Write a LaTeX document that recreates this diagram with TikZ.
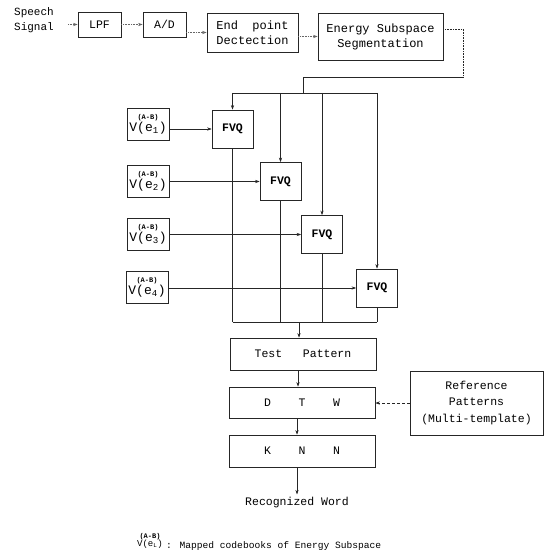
\documentclass[tikz,border=0pt]{standalone}
\usepackage{fontspec}
\setmainfont{Liberation Mono}
\usetikzlibrary{arrows.meta}

% codebook label: small (A-B) superscript over V(e_i)
\newcommand\cbook[1]{{\fontsize{7}{7}\selectfont\bfseries (A-B)}\\[-2pt]V(e\textsubscript{#1})}

\begin{document}
\begin{tikzpicture}[x=1pt,y=-1pt,
  txt/.style={font=\fontsize{11.5}{15}\selectfont, align=center, inner sep=0pt},
  blk/.style={txt, draw=black!85, line width=0.7pt},
  vbox/.style={blk, minimum width=42pt, minimum height=32pt, font=\fontsize{13}{14}\selectfont},
  fvq/.style={blk, minimum width=41pt, minimum height=38pt, font=\fontsize{11.5}{14}\selectfont\bfseries},
  wide/.style={blk, minimum width=146pt, minimum height=32pt},
  flow/.style={-{Stealth[length=4.5pt,width=3.2pt]}, line width=0.6pt, draw=black!85},
  faint/.style={flow, densely dotted, draw=black!60},
  wire/.style={line width=0.6pt, draw=black!85}]

\useasboundingbox (0,0) rectangle (550,556);

% front end
\node[txt, align=left, font=\fontsize{11}{15}\selectfont] (sig) at (34,20) {Speech\\Signal};
\node[blk, minimum width=43pt, minimum height=25pt] (lpf) at (99.5,24.5) {LPF};
\node[blk, minimum width=43pt, minimum height=25pt] (ad) at (164.5,24.5) {A/D};
\node[blk, minimum width=91pt, minimum height=39pt, font=\fontsize{12}{15}\selectfont] (epd) at (252.5,32.5) {End\ \ point\\Dectection};
\node[blk, minimum width=125pt, minimum height=47pt, font=\fontsize{12}{15}\selectfont] (ess) at (380.5,36.5) {Energy Subspace\\Segmentation};

\coordinate (s0) at (68,24.5);
\draw[faint] (s0) -- (lpf.west);
\draw[faint] (lpf.east) -- (ad.west);
\draw[faint] (ad.east |- epd.west) -- (epd.west);
\draw[faint] (epd.east |- ess.west) -- (ess.west);

% segmentation output routed to the FVQ bank
\coordinate (e1) at (463,29);
\coordinate (e2) at (463,77);
\coordinate (e3) at (303,77);
\coordinate (bt) at (303,93);
\draw[wire, densely dotted] (ess.east |- e1) -- (e1) -- (e2);
\draw[wire] (e2) -- (e3) -- (bt);

% codebooks and FVQ blocks
\node[vbox] (v1) at (148,124) {\cbook{1}};
\node[vbox] (v2) at (148,181) {\cbook{2}};
\node[vbox] (v3) at (148,234) {\cbook{3}};
\node[vbox] (v4) at (147,287) {\cbook{4}};

\node[fvq] (f1) at (232.5,129) {FVQ};
\node[fvq] (f2) at (280.5,181.5) {FVQ};
\node[fvq] (f3) at (322,234.5) {FVQ};
\node[fvq] (f4) at (377,288) {FVQ};

\foreach \i in {1,...,4}
  \draw[flow] (v\i.east |- f\i.west) -- (f\i.west);

% upper distribution bus
\coordinate (ta) at (f1.north |- bt);
\coordinate (tb) at (f4.north |- bt);
\draw[wire] (ta) -- (tb);
\foreach \i in {1,...,4}
  \draw[flow] (f\i.north |- bt) -- (f\i.north);

% lower collection bus
\node[wide] (tp) at (303,354) {Test\ \ \ Pattern};
\coordinate (bb) at (299,322);
\draw[wire] (f1.south |- bb) -- (f4.south |- bb);
\foreach \i in {1,...,4}
  \draw[wire] (f\i.south) -- (f\i.south |- bb);
\draw[flow] (bb) -- (bb |- tp.north);

% matching stages
\node[wide, minimum height=31pt] (dtw) at (302,402.5) {D\ \ \ \ T\ \ \ \ W};
\node[wide] (knn) at (302,451) {K\ \ \ \ N\ \ \ \ N};
\node[blk, minimum width=133pt, minimum height=64pt, font=\fontsize{11.5}{16.5}\selectfont] (ref) at (476.5,403) {Reference\\Patterns\\(Multi-template)};
\node[txt] (word) at (297,503) {Recognized Word};

\coordinate (x1) at (298,0);
\coordinate (x2) at (297,0);
\draw[flow] (x1 |- tp.south) -- (x1 |- dtw.north);
\draw[flow] (x2 |- dtw.south) -- (x2 |- knn.north);
\draw[flow, shorten >=3pt] (x2 |- knn.south) -- (x2 |- word.north);
\draw[flow, densely dashed] (ref.west) -- (dtw.east |- ref.west);

% legend
\node[txt, font=\fontsize{9}{10}\selectfont] (key) at (150,541) {\cbook{L}};
\node[txt, anchor=west, font=\fontsize{9.6}{12}\selectfont] (keytxt) at (166,546) {: Mapped codebooks of Energy Subspace};

\end{tikzpicture}
\end{document}
